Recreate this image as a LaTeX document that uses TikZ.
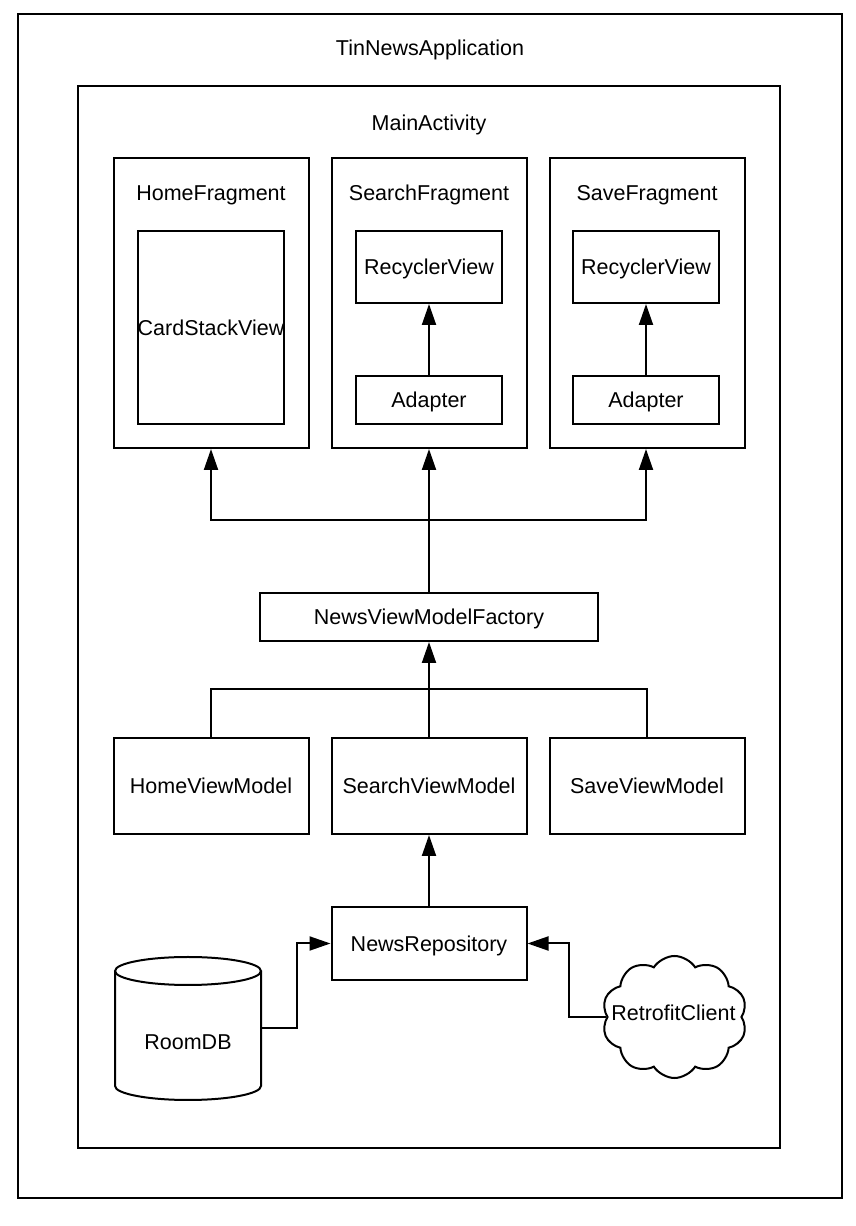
\documentclass[tikz,border=0pt]{standalone}
\usepackage{fontspec}
\setmainfont{Liberation Sans}
\usetikzlibrary{arrows.meta,shapes.symbols}
\newcommand\dfont{\fontsize{21.5pt}{26pt}\selectfont}
\begin{document}
\begin{tikzpicture}[x=1pt,y=1pt,
  every node/.style={font=\dfont, inner sep=0pt, text height=15.5pt, text depth=0pt},
  box/.style={draw, line width=2pt, fill=white},
  lbl/.style={},
  arr/.style={line width=2pt, -{Triangle[length=21pt,width=14pt]}},
  ln/.style={line width=2pt}]
\useasboundingbox (0,0) rectangle (856,1226);
\fill[white] (0,0) rectangle (856,1226);
% containers
\node[box, minimum width=824pt, minimum height=1184pt] (app) at (430,620) {};
\node[lbl] (apptitle) at (430,1178) {TinNewsApplication};
\node[box, minimum width=702pt, minimum height=1062pt] (main) at (429,609) {};
\node[lbl] (maintitle) at (429,1103) {MainActivity};
% fragments
\node[box, minimum width=195pt, minimum height=290pt] (homef) at (211,923) {};
\node[lbl] (homet) at (211,1033) {HomeFragment};
\node[box, minimum width=195pt, minimum height=290pt] (searchf) at (429,923) {};
\node[lbl] (searcht) at (429,1033) {SearchFragment};
\node[box, minimum width=195pt, minimum height=290pt] (savef) at (647,923) {};
\node[lbl] (savet) at (647,1033) {SaveFragment};
% inner views
\node[box, minimum width=146pt, minimum height=193pt] (csv) at (211,898.5) {CardStackView};
\node[box, minimum width=146pt, minimum height=72pt] (srv) at (429,959) {RecyclerView};
\node[box, minimum width=146pt, minimum height=48pt] (sadp) at (429,826) {Adapter};
\node[box, minimum width=146pt, minimum height=72pt] (vrv) at (646,959) {RecyclerView};
\node[box, minimum width=146pt, minimum height=48pt] (vadp) at (646,826) {Adapter};
% factory and view models
\node[box, minimum width=338pt, minimum height=48pt] (fac) at (429,609) {NewsViewModelFactory};
\node[box, minimum width=195pt, minimum height=96pt] (homevm) at (211,440) {HomeViewModel};
\node[box, minimum width=195pt, minimum height=96pt] (searchvm) at (429,440) {SearchViewModel};
\node[box, minimum width=195pt, minimum height=96pt] (savevm) at (647,440) {SaveViewModel};
\node[box, minimum width=195pt, minimum height=73pt] (repo) at (429,282.5) {NewsRepository};
% RoomDB cylinder
\node[minimum width=146pt, minimum height=143pt] (roomdb) at (188,197.5) {};
\draw[ln, fill=white] (115,255) -- (115,140) arc[start angle=180, end angle=360, x radius=73, y radius=14] -- (261,255);
\draw[ln, fill=white] (188,255) ellipse[x radius=73, y radius=14];
\node[lbl] (roomdbt) at (188,184) {RoomDB};
% cloud
\node[cloud, draw, line width=2pt, fill=white, cloud puffs=10, cloud puff arc=115, aspect=1.1, minimum width=145pt, minimum height=122pt] (cloud) at (674.5,209) {};
\node[lbl] (cloudt) at (673.5,213) {RetrofitClient};
% connectors
\draw[arr] (sadp.north) -- (srv.south);
\draw[arr] (vadp.north) -- (vrv.south);
\coordinate (ub) at (429,706);
\draw[arr] (fac.north) -- (searchf.south);
\draw[arr] (ub) -| (homef.south);
\draw[arr] (ub) -| ([xshift=-1pt]savef.south);
\coordinate (lb) at (429,537);
\draw[ln] (homevm.north) |- (lb) -| (savevm.north);
\draw[arr] (searchvm.north) -- (fac.south);
\draw[arr] (repo.north) -- (searchvm.south);
\draw[arr] (roomdb.east) -- ++(36,0) |- (repo.west);
\draw[arr] (cloud.west) -- ++(-37,0) |- (repo.east);
\end{tikzpicture}
\end{document}
